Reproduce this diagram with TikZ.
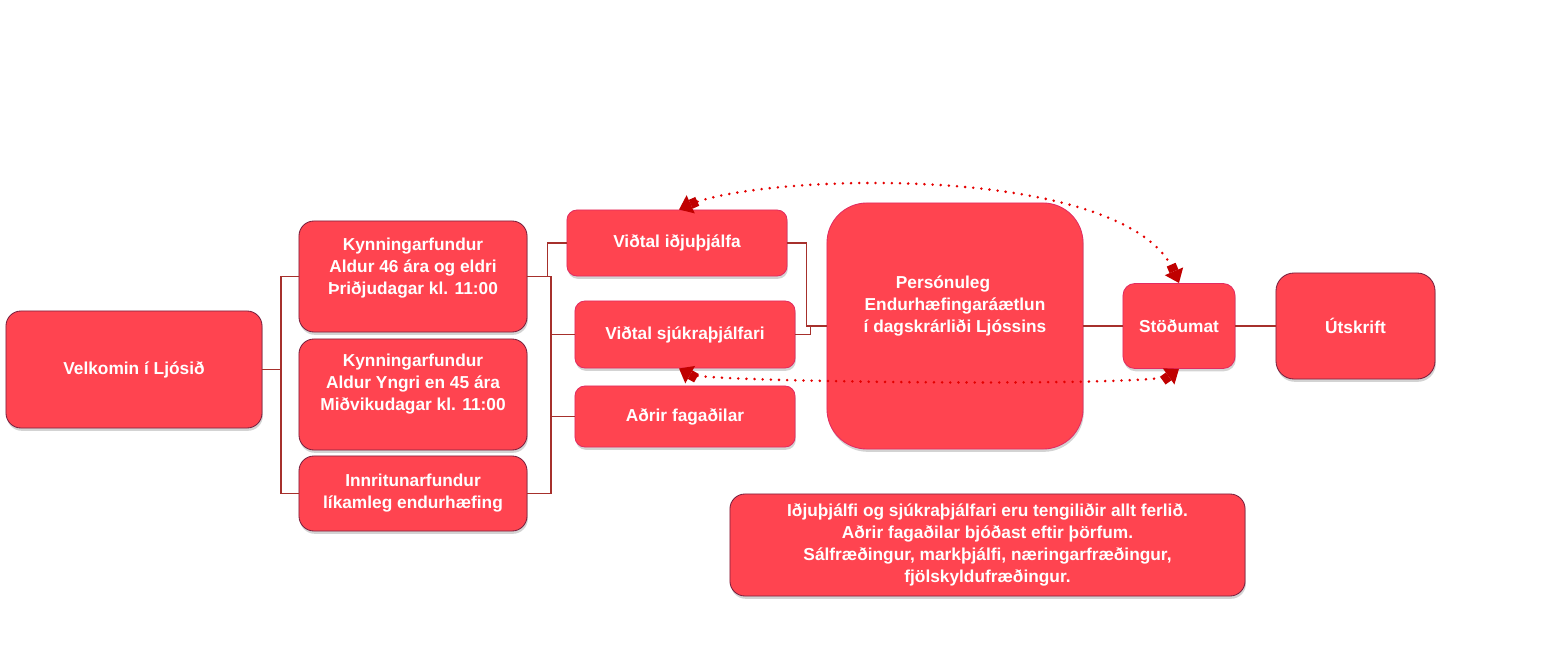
\documentclass[tikz,border=0pt]{standalone}
\usepackage{fontspec}
\setmainfont{Liberation Sans}
\usepackage{tikz}
\usetikzlibrary{arrows.meta}
\usetikzlibrary{shadows}

\definecolor{boxred}{RGB}{255,68,80}
\definecolor{darkedge}{RGB}{122,32,62}
\definecolor{pinkedge}{RGB}{226,44,96}
\definecolor{linkred}{RGB}{166,48,44}
\definecolor{dotred}{RGB}{228,0,0}
\definecolor{tipred}{RGB}{192,0,0}

\begin{document}
\begin{tikzpicture}[x=0.025cm, y=0.025cm,
  redbox/.style={fill=boxred, draw=darkedge, line width=0.6pt, rounded corners=0.375cm, inner sep=0pt,
    text=white, align=center, font=\fontsize{12.3}{15.6}\selectfont\bfseries,
    drop shadow={shadow xshift=0.6pt, shadow yshift=-2pt, opacity=0.35}},
  pinkbox/.style={redbox, draw=pinkedge},
  boxtext/.style={text=white, align=center, inner sep=0pt, font=\fontsize{12.3}{15.6}\selectfont\bfseries},
  joinline/.style={draw=linkred, line width=1.3pt},
  fattip/.tip={Rectangle[width=0.24cm, length=0.18cm, color=tipred] Triangle[width=0.48cm, length=0.32cm, color=tipred]},
  dotlink/.style={dotred, line width=2pt, line cap=round, dash pattern=on 0pt off 5.8pt, fattip-fattip}]
  \useasboundingbox (0,0) rectangle (1541,659);

  \node[redbox, minimum width=6.4cm, minimum height=2.925cm] (welcome) at (134,289.5) {Velkomin í Ljósið};
  \node[redbox, minimum width=5.7cm, minimum height=2.775cm] (k1) at (413,382.5) {};
  \node[boxtext] (k1text) at ([yshift=0.21cm]k1.center) {Kynningarfundur\\ Aldur 46 ára og eldri\\ Þriðjudagar kl. 11:00};
  \node[redbox, minimum width=5.7cm, minimum height=2.775cm] (k2) at (413,264.5) {};
  \node[boxtext] (k2text) at ([yshift=0.26cm]k2.center) {Kynningarfundur\\ Aldur Yngri en 45 ára\\ Miðvikudagar kl. 11:00};
  \node[redbox, minimum width=5.7cm, minimum height=1.875cm] (innr) at (413,165.5) {Innritunarfundur\\ líkamleg endurhæfing};

  \node[pinkbox, minimum width=5.5cm, minimum height=1.65cm, rounded corners=0.25cm] (vi) at (677,416) {Viðtal iðjuþjálfa};
  \node[pinkbox, minimum width=5.5cm, minimum height=1.675cm, rounded corners=0.25cm] (vs) at (685,324.5) {Viðtal sjúkraþjálfari};
  \node[pinkbox, minimum width=5.5cm, minimum height=1.525cm, rounded corners=0.25cm] (adr) at (685,242.5) {Aðrir fagaðilar};

  \node[pinkbox, minimum width=6.4cm, minimum height=6.15cm, rounded corners=1cm] (plan) at (955,333) {};
  \node[boxtext] (plantext) at ([yshift=0.5cm]plan.center) {Persónuleg\hspace*{0.6cm}\\ Endurhæfingaráætlun\\ í dagskrárliði Ljóssins};
  \node[pinkbox, minimum width=2.8cm, minimum height=2.125cm, rounded corners=0.3cm] (stod) at (1179,333) {Stöðumat};
  \node[redbox, minimum width=3.975cm, minimum height=2.65cm, rounded corners=0.45cm] (uts) at (1355.5,333) {Útskrift};

  \node[redbox, minimum width=12.875cm, minimum height=2.55cm] (note) at (987.5,114) {Iðjuþjálfi og sjúkraþjálfari eru tengiliðir allt ferlið.\\ Aðrir fagaðilar bjóðast eftir þörfum.\\ Sálfræðingur, markþjálfi, næringarfræðingur,\\ fjölskyldufræðingur.};

  \coordinate (lbar) at (281,0);
  \coordinate (rbar) at (551,0);
  \draw[joinline] (welcome.east) -- (welcome.east -| lbar);
  \draw[joinline] (k1.west) -| (lbar |- innr.west) -- (innr.west);
  \draw[joinline] (k1.east) -| (rbar |- innr.east) -- (innr.east);
  \draw[joinline] (vs.west) -- (vs.west -| rbar);
  \draw[joinline] (adr.west) -- (adr.west -| rbar);
  \draw[joinline] (k1.east) -- ++(20,0) |- (vi.west);
  \draw[joinline] (vi.east) -- ++(19,0) |- (plan.west);
  \draw[joinline] (vs.east) -- ++(15,0) |- (plan.west);
  \draw[joinline] (plan.east) -- (stod.west);
  \draw[joinline] (stod.east) -- (uts.west);

  \draw[dotlink] ([xshift=0.05cm]vi.north) .. controls +(80,36) and +(-52,122) .. (stod.north);
  \draw[dotlink] ([xshift=-0.15cm]vs.south) .. controls +(25,-14) and +(-25,-18) .. (stod.south);
\end{tikzpicture}
\end{document}
